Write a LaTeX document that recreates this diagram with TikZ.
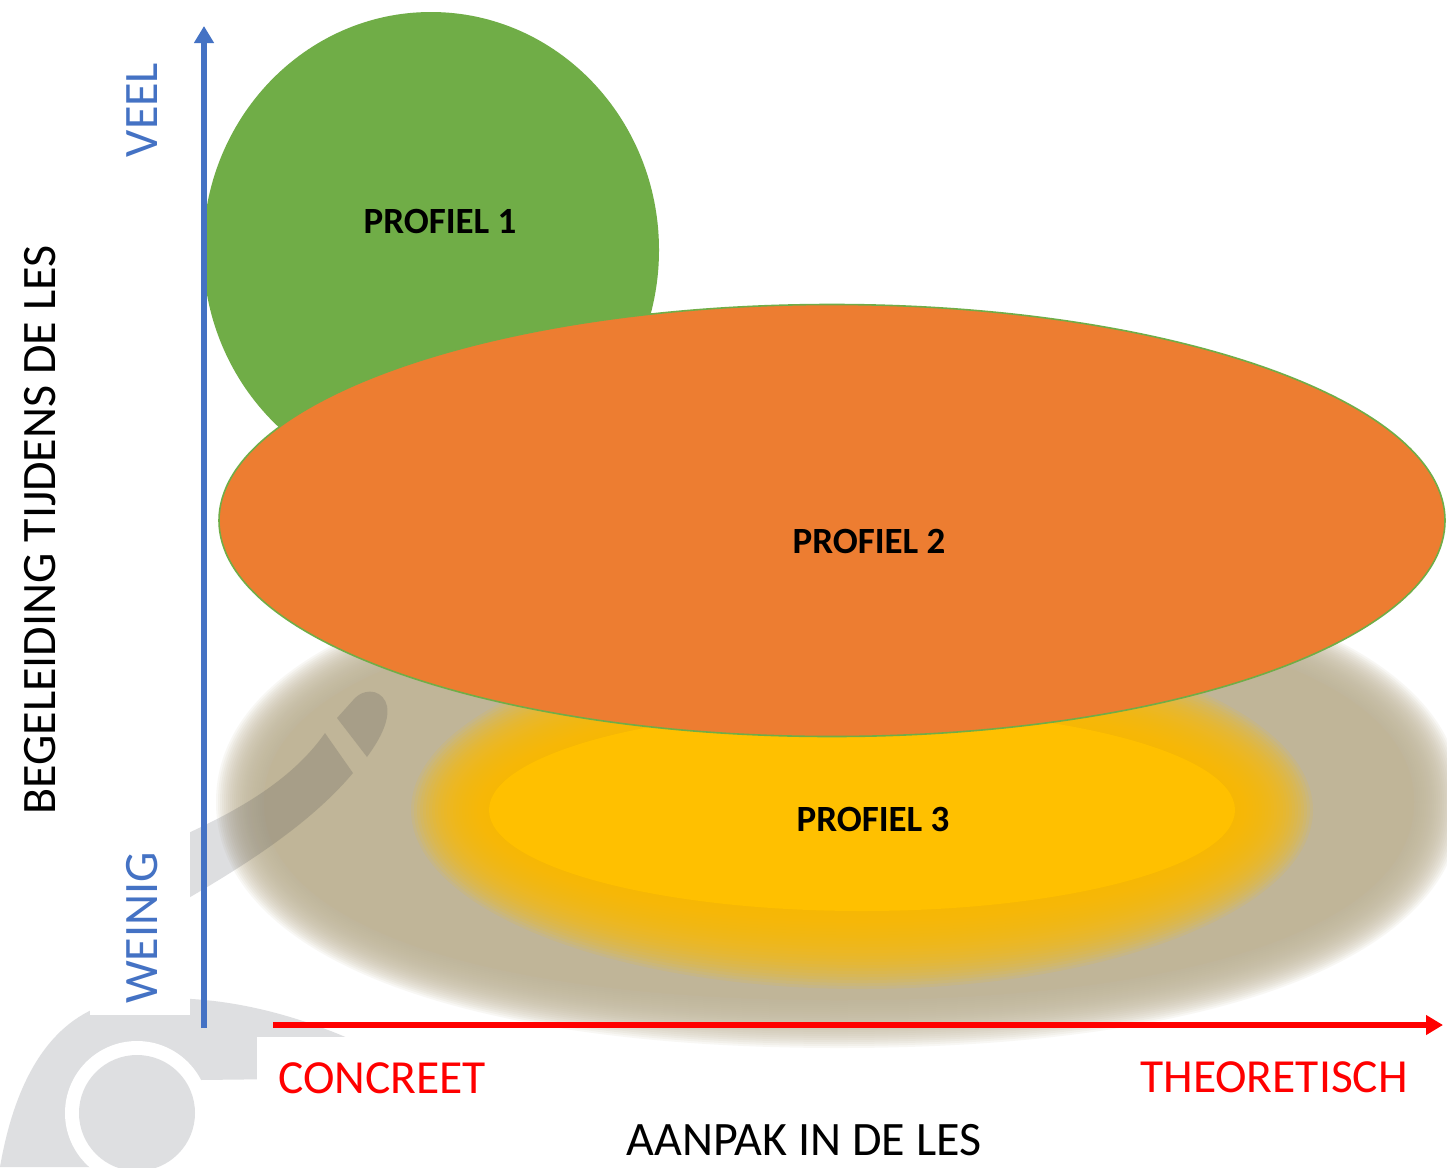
\documentclass[tikz,border=0pt]{standalone}
\usepackage{fontspec}
\setmainfont{Carlito}
\usetikzlibrary{arrows.meta}
\definecolor{axisblue}{HTML}{4472C4}
\definecolor{axisred}{HTML}{FF0000}
\definecolor{profgreen}{HTML}{70AD47}
\definecolor{proforange}{HTML}{ED7D31}
\definecolor{profyellow}{HTML}{FFC000}
\definecolor{shadowtan}{RGB}{192,181,152}
\definecolor{logogrey}{RGB}{222,223,225}
\definecolor{stripedark}{RGB}{20,25,40}
\tikzset{
  blob/.style n args={5}{insert path={
    (#1+#3,#2) .. controls (#1+#3,#2+#5*#4) and (#1+#5*#3,#2+#4) .. (#1,#2+#4)
    .. controls (#1-#5*#3,#2+#4) and (#1-#3,#2+#5*#4) .. (#1-#3,#2)
    .. controls (#1-#3,#2-#5*#4) and (#1-#5*#3,#2-#4) .. (#1,#2-#4)
    .. controls (#1+#5*#3,#2-#4) and (#1+#3,#2-#5*#4) .. (#1+#3,#2) -- cycle}},
  axislabel/.style={inner sep=0pt, font=\fontsize{48}{52}\selectfont},
  endlabel/.style={inner sep=0pt, text=axisred, font=\fontsize{47.5}{52}\selectfont},
  vlabel/.style={inner sep=0pt, rotate=90, text=axisblue, font=\fontsize{48}{52}\selectfont},
  proflabel/.style={inner sep=0pt, font=\fontsize{37}{40}\selectfont\bfseries},
  axisline/.style={line width=6pt, -{Triangle[length=17pt,width=19pt]}},
  stripe/.style={fill=stripedark, fill opacity=0.14},
}
\begin{document}
\begin{tikzpicture}[x=1pt,y=-1pt]
\useasboundingbox (0,0) rectangle (1447,1167);
\fill[white] (0,0) rectangle (1447,1167);
% --- grey logo (background)
\fill[logogrey] (0,1167) .. controls (15,1080) and (50,1020) .. (110,1003)
   .. controls (200,988) and (290,1010) .. (370,1048) -- (370,1078)
   -- (200,1080) -- (137,1113) -- (137,1167) -- cycle;
\fill[white] (137,1113) circle[radius=72pt];
\fill[logogrey] (137,1113) circle[radius=58pt];
% --- blurred shadow
\foreach \d in {24,22,...,-24}{
  \pgfmathsetmacro\aa{599+\d}\pgfmathsetmacro\bb{222+\d}
  \fill[shadowtan, fill opacity=0.1, blob={839}{802}{\aa}{\bb}{0.62}];
}
\fill[shadowtan, blob={839}{802}{575}{198}{0.62}];
% --- blurred yellow ellipse
\foreach \d in {39,36,...,-39}{
  \pgfmathsetmacro\aa{412+\d}\pgfmathsetmacro\bb{140+\d}
  \fill[profyellow, fill opacity=0.1, blob={862}{810}{\aa}{\bb}{0.552}];
}
\fill[profyellow, blob={862}{810}{373}{101}{0.552}];
% --- stripe of logo
\fill[stripe] (150,850) .. controls (215,822) and (285,790) .. (325,733)
   -- (353,773) .. controls (305,830) and (230,875) .. (150,920) -- cycle;
\fill[stripe] (337,718) -- (367,757) .. controls (378,742) and (390,722) .. (387,706)
   .. controls (384,692) and (368,686) .. (355,698) -- cycle;
% --- white label boxes
\fill[white] (90,790) rectangle (190,1015);
\fill[white] (257,1037) rectangle (500,1112);
% --- profiles
\fill[profgreen] (431,250) ellipse[x radius=228pt, y radius=238pt];
\node[proflabel, anchor=base] (p1) at (440,233) {PROFIEL 1};
\filldraw[fill=proforange, draw=profgreen, line width=1.6pt] (832,520.5) ellipse[x radius=613pt, y radius=216pt];
\node[proflabel, anchor=base] (p2) at (869,553) {PROFIEL 2};
\node[proflabel, anchor=base] (p3) at (873,831) {PROFIEL 3};
% --- axes
\coordinate (yb) at (204,1028);
\coordinate (yt) at (204,26);
\coordinate (xl) at (273,1025);
\coordinate (xr) at (1443,1025);
\draw[axisline, draw=axisblue, fill=axisblue] (yb) -- (yt);
\draw[axisline, draw=axisred, fill=axisred] (xl) -- (xr);
% --- labels
\node[vlabel, anchor=base] (veel) at (157,110) {VEEL};
\node[vlabel, anchor=base] (weinig) at (157,928) {WEINIG};
\node[axislabel, rotate=90, anchor=base] (ylab) at (55,530) {BEGELEIDING TIJDENS DE LES};
\node[axislabel, anchor=base] (xlab) at (804,1155) {AANPAK IN DE LES};
\node[endlabel, anchor=base west] (conc) at (278,1093) {CONCREET};
\node[endlabel, anchor=base east] (theo) at (1408,1092) {THEORETISCH};
\end{tikzpicture}
\end{document}
